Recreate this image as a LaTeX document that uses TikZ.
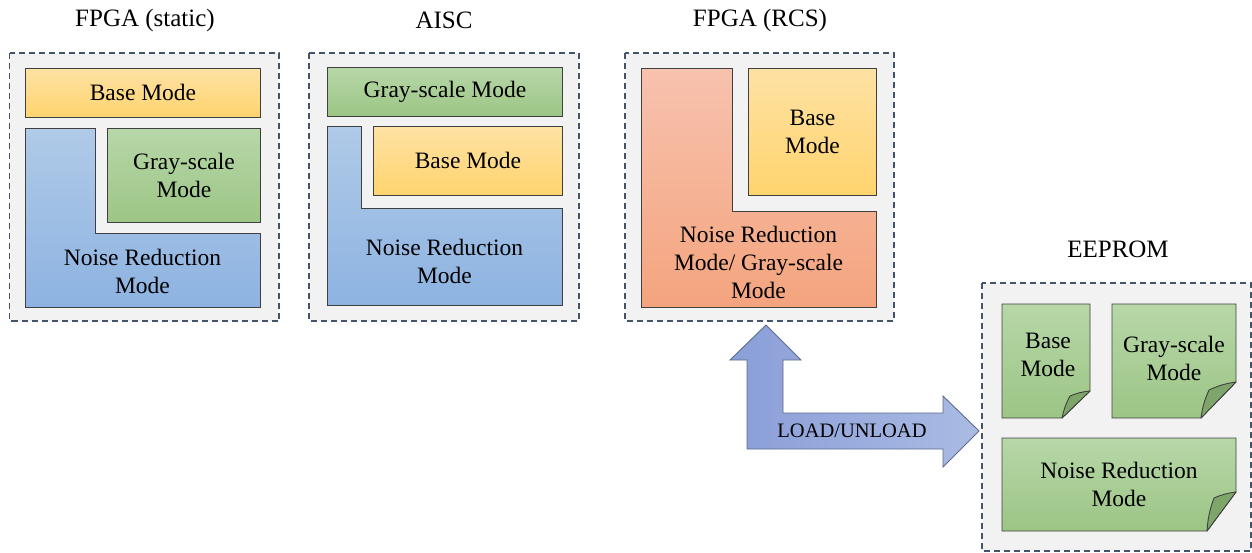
\documentclass[tikz,border=0pt]{standalone}
\usepackage{fontspec}
\setmainfont{Liberation Serif}
\definecolor{panelbg}{HTML}{F2F2F2}
\definecolor{panelline}{HTML}{44546A}
\definecolor{edge}{HTML}{404040}
\definecolor{baseT}{HTML}{FEE2A4}
\definecolor{baseB}{HTML}{FFD46E}
\definecolor{grayT}{HTML}{B7D7A8}
\definecolor{grayB}{HTML}{9CC585}
\definecolor{blueT}{HTML}{B0CAE8}
\definecolor{blueB}{HTML}{8DB3E1}
\definecolor{salT}{HTML}{F7C2AE}
\definecolor{salB}{HTML}{F4A47E}
\definecolor{foldc}{HTML}{7FA66A}
\definecolor{arrL}{HTML}{8A9ED8}
\definecolor{arrR}{HTML}{AABBE3}
\definecolor{arrEdge}{HTML}{5C6C8A}
\begin{document}
\begin{tikzpicture}[x=1pt,y=-1pt,
  panel/.style={draw=panelline, fill=panelbg, dash pattern=on 6pt off 4pt, line width=1.5pt},
  blk/.style={draw=edge, line width=0.9pt, inner sep=0pt, anchor=north west,
    font=\fontsize{23.5}{28}\selectfont, align=center},
  basebox/.style={blk, top color=baseT, bottom color=baseB},
  graybox/.style={blk, top color=grayT, bottom color=grayB},
  bluefill/.style={draw=edge, line width=0.9pt, top color=blueT, bottom color=blueB},
  salfill/.style={draw=edge, line width=0.9pt, top color=salT, bottom color=salB},
  docfill/.style={draw=edge, line width=0.9pt, top color=grayT, bottom color=grayB},
  fold/.style={draw=edge, line width=0.9pt, fill=foldc, line join=round},
  lbl/.style={font=\fontsize{23.5}{28}\selectfont, align=center, inner sep=0pt},
  ttl/.style={font=\fontsize{25}{30}\selectfont, inner sep=0pt},
]
\useasboundingbox (0,0) rectangle (1252,552);

% ---------- FPGA (static) ----------
\node[ttl] (t1) at (145,20) {FPGA (static)};
\path[panel] (9.5,53) rectangle (279,321);
\node[basebox, minimum width=235pt, minimum height=49pt] (b1) at (25,68) {Base Mode};
\path[bluefill] (25,128) -- (95,128) -- (95,233) -- (260,233) -- (260,307) -- (25,307) -- cycle;
\node[lbl] (n1) at (142.5,271) {Noise Reduction\\Mode};
\node[graybox, minimum width=153pt, minimum height=94pt] (g1) at (107,128) {Gray-scale\\Mode};

% ---------- AISC ----------
\node[ttl] (t2) at (444,20) {AISC};
\path[panel] (309,53) rectangle (579,321);
\node[graybox, minimum width=235pt, minimum height=49pt] (g2) at (327,67) {Gray-scale Mode};
\path[bluefill] (327,126) -- (361,126) -- (361,208) -- (562,208) -- (562,305) -- (327,305) -- cycle;
\node[lbl] (n2) at (444.5,261) {Noise Reduction\\Mode};
\node[basebox, minimum width=189pt, minimum height=69pt] (b2) at (373,126) {Base Mode};

% ---------- FPGA (RCS) ----------
\node[ttl] (t3) at (760,20) {FPGA (RCS)};
\path[panel] (625,53) rectangle (894,321);
\path[salfill] (641,68) -- (732,68) -- (732,211) -- (876,211) -- (876,307) -- (641,307) -- cycle;
\node[lbl] (n3) at (758.5,262) {Noise Reduction\\Mode/ Gray-scale\\Mode};
\node[basebox, minimum width=128pt, minimum height=127pt] (b3) at (748,68) {Base\\Mode};

% ---------- EEPROM ----------
\node[ttl] (t4) at (1118,249) {EEPROM};
\path[panel] (982,283) rectangle (1251,551);
% Base Mode page
\path[docfill] (1002,304) -- (1090,304) -- (1090,391) -- (1062,418) -- (1002,418) -- cycle;
\path[fold] (1062,418) to[bend left=8] (1070,396) to[bend left=8] (1090,391) -- cycle;
\node[lbl] (d1) at (1048,354.5) {Base\\Mode};
% Gray-scale Mode page
\path[docfill] (1112,304) -- (1236,304) -- (1236,382) -- (1201,418) -- (1112,418) -- cycle;
\path[fold] (1201,418) to[bend left=8] (1209,390) to[bend left=8] (1236,382) -- cycle;
\node[lbl] (d2) at (1174,358.5) {Gray-scale\\Mode};
% Noise Reduction Mode page
\path[docfill] (1002,438) -- (1236,438) -- (1236,492) -- (1207,531) -- (1002,531) -- cycle;
\path[fold] (1207,531) to[bend left=8] (1214,498) to[bend left=8] (1236,492) -- cycle;
\node[lbl] (d3) at (1119,484.5) {Noise Reduction\\Mode};

% ---------- load / unload arrow ----------
\coordinate (upTip) at (766,325);
\coordinate (rtTip) at (979,431);
\path[draw=arrEdge, line width=0.9pt, left color=arrL, right color=arrR, line join=miter]
  (upTip) -- (801,360) -- (783,360) -- (783,413) -- (943,413) -- (943,396) -- (rtTip)
  -- (943,467) -- (943,449) -- (747,449) -- (747,360) -- (730,360) -- cycle;
\node[font=\fontsize{20.5}{24}\selectfont, inner sep=0pt] (lu) at (852,431) {LOAD/UNLOAD};
\end{tikzpicture}
\end{document}
